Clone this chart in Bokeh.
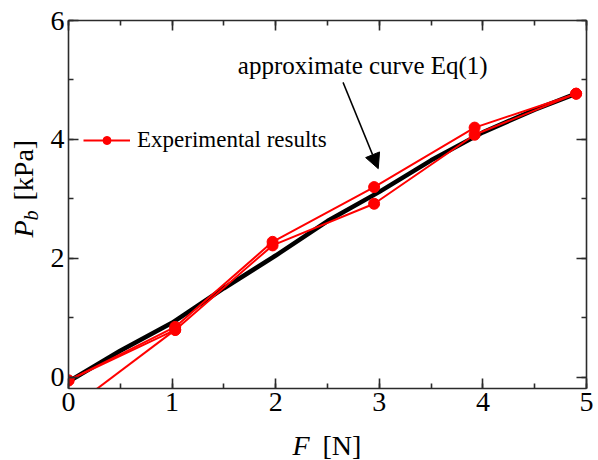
import math
from bokeh.plotting import figure
from bokeh.layouts import row, column
from bokeh.models import (Range1d, LinearAxis, SingleIntervalTicker, CustomJSTickFormatter,
                          Label, Arrow, NormalHead, Legend, LegendItem)
from bokeh.embed import file_html
from bokeh.resources import INLINE

# ---- data ----
F_curve = [0.0, 0.5, 1.0, 1.5, 2.0, 2.5, 3.0, 3.5, 4.0, 4.5, 4.9]
P_curve = [-0.07, 0.45, 0.92, 1.50, 2.05, 2.63, 3.12, 3.65, 4.12, 4.50, 4.77]

F_load = [0.0, 1.03, 1.97, 2.95, 3.92, 4.9]
P_load = [-0.05, 0.85, 2.28, 3.20, 4.20, 4.77]

F_unload = [4.9, 3.92, 2.95, 1.97, 1.03, 0.0]
P_unload = [4.77, 4.08, 2.92, 2.22, 0.80, -0.05]

F_reload = [0.0, 1.03]
P_reload = [-0.55, 0.80]

x_ticks_interval = 1
y_ticks_interval = 2

FONT = "Liberation Serif"
AXIS_COLOR = "#2b2b2b"

W, H = 598, 460
LEFT_W = 44              # strip holding the y-axis title
BOTTOM_H = 30            # strip holding the x-axis title
FRAME_L, FRAME_R, FRAME_T, FRAME_B = 68, 586, 20, 388   # frame edges on the page

p = figure(width=W - LEFT_W, height=H - BOTTOM_H, x_range=Range1d(0, 5), y_range=Range1d(-0.185, 6),
           output_backend="svg", toolbar_location=None,
           min_border_left=FRAME_L - LEFT_W, min_border_right=W - FRAME_R,
           min_border_top=FRAME_T, min_border_bottom=H - BOTTOM_H - FRAME_B,
           x_axis_location=None, y_axis_location=None)
p.grid.visible = False
p.outline_line_color = None
p.background_fill_color = "white"
p.border_fill_color = "white"


def style_axis(ax, labels=True):
    ax.axis_line_color = AXIS_COLOR
    ax.axis_line_width = 1.6
    ax.major_tick_line_color = AXIS_COLOR
    ax.major_tick_line_width = 1.6
    ax.minor_tick_line_color = AXIS_COLOR
    ax.minor_tick_line_width = 1.6
    ax.major_tick_in = 10
    ax.major_tick_out = 0
    ax.minor_tick_in = 5
    ax.minor_tick_out = 0
    ax.major_label_text_font = FONT
    ax.major_label_text_font_size = "28px"
    ax.major_label_text_color = "black"
    ax.major_label_standoff = 4
    if not labels:
        ax.formatter = CustomJSTickFormatter(code="return ''")


xt = lambda: SingleIntervalTicker(interval=x_ticks_interval, num_minor_ticks=2)
yt = lambda: SingleIntervalTicker(interval=y_ticks_interval, num_minor_ticks=2)

ax_b = LinearAxis(ticker=xt()); style_axis(ax_b)
ax_t = LinearAxis(ticker=xt()); style_axis(ax_t, labels=False)
ax_l = LinearAxis(ticker=yt()); style_axis(ax_l)
ax_r = LinearAxis(ticker=yt()); style_axis(ax_r, labels=False)
p.add_layout(ax_b, "below")
p.add_layout(ax_t, "above")
p.add_layout(ax_l, "left")
p.add_layout(ax_r, "right")

# approximate curve
p.line(F_curve, P_curve, line_color="black", line_width=4.5)

# experimental results
red = "#ff0000"
l1 = p.line(F_load, P_load, line_color=red, line_width=2)
s1 = p.scatter(F_load, P_load, size=11, fill_color=red, line_color=red)
p.line(F_unload, P_unload, line_color=red, line_width=2)
p.scatter(F_unload, P_unload, size=11, fill_color=red, line_color=red)
p.line(F_reload, P_reload, line_color=red, line_width=2)
p.scatter(F_reload, P_reload, size=11, fill_color=red, line_color=red)

legend = Legend(items=[LegendItem(label="Experimental results", renderers=[l1, s1])],
                location=(15, 235), padding=0, margin=0, spacing=0,
                glyph_width=47, glyph_height=20, label_standoff=7,
                label_text_font=FONT, label_text_font_size="23px",
                label_text_color="black",
                label_text_baseline="middle",
                background_fill_alpha=0, border_line_color=None)
p.add_layout(legend, "center")

# annotation with arrow
p.add_layout(Label(x=2.84, y=5.24, text="approximate curve Eq(1)", text_align="center",
                   text_baseline="middle", text_font=FONT, text_font_size="25px",
                   text_color="black"))
p.add_layout(Arrow(x_start=2.65, y_start=4.96, x_end=2.99, y_end=3.51,
                   line_color="black", line_width=1.5,
                   end=NormalHead(size=15, fill_color="black", line_color="black")))


# ---- strips carrying the axis titles (mixed italic / subscript text) ----
def strip(w, h, bl=0, br=0):
    f = figure(width=w, height=h, x_range=Range1d(0, 1), y_range=Range1d(0, 1),
               output_backend="svg", toolbar_location=None,
               min_border_left=bl, min_border_right=br, min_border_top=0, min_border_bottom=0,
               x_axis_location=None, y_axis_location=None)
    f.grid.visible = False
    f.outline_line_color = None
    f.background_fill_color = "white"
    f.border_fill_color = "white"
    return f


def piece(x, y, text, size="28px", italic=False, angle=0.0):
    return Label(x=x, y=y, x_units="screen", y_units="screen", text=text, angle=angle,
                 text_font=FONT, text_font_size=size,
                 text_font_style="italic" if italic else "normal",
                 text_color="black", text_baseline="alphabetic", text_align="left")


left_strip = strip(LEFT_W, H)
left_strip.add_layout(piece(23, H - 237, "P", italic=True, angle=math.pi / 2))
left_strip.add_layout(piece(30, H - 220, "b", size="20px", italic=True, angle=math.pi / 2))
left_strip.add_layout(piece(23, H - 200, "[kPa]", angle=math.pi / 2))

# bottom strip: its frame lines up with the main frame (left edge at FRAME_L on the page)
bottom_strip = strip(W - LEFT_W, BOTTOM_H, bl=FRAME_L - LEFT_W, br=W - FRAME_R)
bottom_strip.add_layout(piece(292 - FRAME_L, 15, "F", italic=True))
bottom_strip.add_layout(piece(322 - FRAME_L, 15, "[N]"))

layout = row(left_strip, column(p, bottom_strip, spacing=0), spacing=0)

open("out.html", "w").write(file_html(layout, INLINE))
